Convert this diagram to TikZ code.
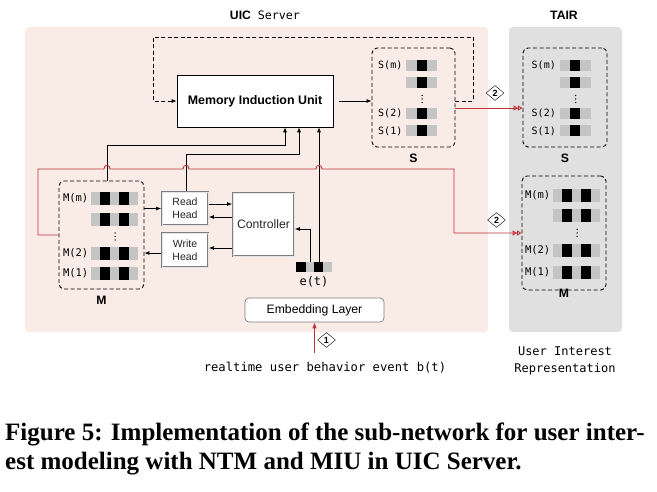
\documentclass[tikz,border=0pt]{standalone}
\usepackage{fontspec}
\setmainfont{Liberation Serif}
\setsansfont{Liberation Sans}
\setmonofont{DejaVu Sans Mono}
\usetikzlibrary{positioning,calc,arrows.meta,shapes.geometric}

\definecolor{uicpink}{RGB}{249,236,230}
\definecolor{tairgray}{RGB}{224,224,224}
\definecolor{cellgray}{RGB}{196,196,196}
\definecolor{linkred}{RGB}{192,48,56}
\definecolor{framegray}{RGB}{125,125,125}

\tikzset{
  memframe/.style={draw, dashed, dash pattern=on 4pt off 2.5pt, line width=0.9pt, rounded corners=5pt, inner sep=0pt},
  headbox/.style={draw=framegray, line width=1.8pt, fill=white, inner sep=0pt, align=center,
    postaction={draw=white!80!framegray, line width=0.6pt}, font=\sffamily\fontsize{10.5}{13}\selectfont, text=black!85},
  miubox/.style={draw, line width=0.7pt, fill=white, minimum width=156pt, minimum height=52pt, font=\sffamily\bfseries\fontsize{12.4}{14}\selectfont},
  embbox/.style={draw=framegray, line width=0.7pt, rounded corners=4pt, fill=white, minimum width=139pt, minimum height=24pt, font=\sffamily\fontsize{12.2}{14}\selectfont},
  slotlabel/.style={font=\ttfamily\fontsize{10}{11}\selectfont, inner sep=0pt},
  titletext/.style={font=\sffamily\bfseries\fontsize{12.2}{14}\selectfont},
  arr/.style={-{Latex[length=5pt,width=4pt]}, line width=0.7pt},
  loopline/.style={arr, dashed, dash pattern=on 4pt off 2.5pt, line width=0.8pt},
  redline/.style={linkred, line width=0.9pt, -{Triangle[open,length=4.5pt,width=5pt]Triangle[open,length=4.5pt,width=5pt]}},
  numtag/.style={diamond, draw, fill=white, inner sep=0pt, minimum width=18pt, minimum height=15pt, font=\sffamily\bfseries\fontsize{9}{10}\selectfont}
}

% one row of S: x, y, label, name
\newcommand{\slotS}[4]{%
  \fill[cellgray] (#1-15.5,#2-5.5) rectangle (#1+15.5,#2+5.5);
  \fill[black] (#1-5,#2-5.5) rectangle (#1+5,#2+5.5);
  \node[slotlabel, anchor=east] (#4) at (#1-19,#2) {#3};
}
% one row of M: x, y, label, name
\newcommand{\slotM}[4]{%
  \fill[cellgray] (#1-23.5,#2-6.5) rectangle (#1+23.5,#2+6.5);
  \fill[black] (#1-14.5,#2-6.5) rectangle (#1-4.5,#2+6.5);
  \fill[black] (#1+4.5,#2-6.5) rectangle (#1+14.5,#2+6.5);
  \node[slotlabel, font=\ttfamily\fontsize{10.5}{11}\selectfont, anchor=east] (#4) at (#1-26,#2) {#3};
}
% vertical dots
\newcommand{\dotcol}[2]{\fill (#1,#2-3.5) circle (0.75pt) (#1,#2) circle (0.75pt) (#1,#2+3.5) circle (0.75pt);}

\begin{document}
\begin{tikzpicture}[x=1pt,y=-1pt]
\useasboundingbox (0,0) rectangle (657,492);

% Backgrounds
\fill[uicpink, rounded corners=4pt] (25,27) rectangle (488,332);
\fill[tairgray, rounded corners=4pt] (509,27) rectangle (622,332);
\node[titletext] (uictitle) at (265,15) {UIC\ \ {\fontsize{11.7}{14}\selectfont\mdseries\ttfamily Server}};
\node[titletext] (tairtitle) at (564,15) {TAIR};

% MIU and S
\node[miubox] (miu) at (255,101) {Memory Induction Unit};
\node[memframe, minimum width=83pt, minimum height=99pt] (sbox) at (413.5,97.5) {};
\node[titletext, below=3pt of sbox] (slabel) {S};
\node[memframe, minimum width=84pt, minimum height=99pt] (tsbox) at (565,97.5) {};
\node[titletext, below=3pt of tsbox] (tslabel) {S};

% M, heads, controller
\node[memframe, minimum width=85pt, minimum height=108pt] (mbox) at (101.5,235) {};
\node[titletext, below=3pt of mbox] (mlabel) {M};
\node[memframe, minimum width=84pt, minimum height=114pt] (tmbox) at (564,233) {};
\node[titletext, below=-5pt of tmbox] (tmlabel) {M};
\node[headbox, minimum width=46pt, minimum height=33pt] (rhead) at (185,208.5) {Read\\Head};
\node[headbox, minimum width=46pt, minimum height=34pt] (whead) at (185,250) {Write\\Head};
\node[headbox, minimum width=61pt, minimum height=63pt, font=\sffamily\fontsize{12.2}{14}\selectfont] (ctrl) at (263.5,224.5) {Controller};

% memory rows
\begin{scope}[shift={(sbox.center)}]
\foreach \dy/\lab [count=\i] in {-32/S(m), -14.5/{}, 16/S(2), 33.5/S(1)} {\slotS{8}{\dy}{\lab}{us\i}}
\dotcol{8.5}{1.5}
\end{scope}
\begin{scope}[shift={(tsbox.center)}]
\foreach \dy/\lab [count=\i] in {-32/S(m), -14.5/{}, 16/S(2), 33.5/S(1)} {\slotS{10}{\dy}{\lab}{ts\i}}
\dotcol{10.5}{1.5}
\end{scope}
\begin{scope}[shift={(mbox.center)}]
\foreach \dy/\lab [count=\i] in {-36.5/M(m), -15.5/{}, 18.5/M(2), 38.5/M(1)} {\slotM{13}{\dy}{\lab}{um\i}}
\dotcol{13.5}{1.5}
\end{scope}
\begin{scope}[shift={(tmbox.center)}]
\foreach \dy/\lab [count=\i] in {-37.5/M(m), -17.5/{}, 17.5/M(2), 39.5/M(1)} {\slotM{12.5}{\dy}{\lab}{tm\i}}
\dotcol{13}{0}
\end{scope}

% e(t), embedding and event
\node[inner sep=0pt, minimum width=36pt, minimum height=10pt] (evec) at (314,267) {};
\begin{scope}[shift={(evec.center)}]
\fill[black] (-18,-5) rectangle (-8,5);
\fill[cellgray] (-8,-5) rectangle (0,5);
\fill[black] (0,-5) rectangle (9,5);
\fill[cellgray] (9,-5) rectangle (18,5);
\end{scope}
\node[below=4pt of evec, font=\ttfamily\fontsize{12}{14}\selectfont, inner sep=0pt] (elabel) {e(t)};
\node[embbox] (emb) at (314.5,310) {Embedding Layer};
\node[font=\ttfamily\fontsize{12.2}{14}\selectfont] (event) at (325,368) {realtime user behavior event b(t)};
\node[align=center, font=\ttfamily\fontsize{12}{17}\selectfont] (uirep) at (565,361) {User Interest\\Representation};

% MIU <-> S
\draw[arr, shorten <=6pt] (miu.east) -- (sbox.west |- miu.east);
\draw[loopline] (sbox.east |- miu.east) -- ++(18,0) |- (153,37) |- (miu.west);

% inputs of MIU
\draw[arr] ($(mbox.north)+(5.5,0)$) -- ++(0,-35) -| ($(miu.south)+(30,0)$);
\draw[arr] ($(rhead.north)+(1,0)$) -- ++(0,-37) -| ($(miu.south)+(44,0)$);
\draw[arr] ($(evec.north)+(5,0)$) -- ($(miu.south)+(64,0)$);
\draw[arr] ($(evec.north)+(-4,0)$) |- ($(ctrl.east)+(0,4.5)$);

% heads
\draw[arr] (mbox.east |- rhead.west) -- (rhead.west);
\coordinate (rc1) at ($(rhead.east)+(0,-4.5)$);
\coordinate (rc2) at ($(rhead.east)+(0,8.5)$);
\draw[arr] (rc1) -- (rc1 -| ctrl.west);
\draw[arr] (rc2 -| ctrl.west) -- (rc2);
\coordinate (wc1) at ($(whead.east)+(0,-2)$);
\draw[arr] (wc1 -| ctrl.west) -- (wc1);
\coordinate (wc2) at ($(whead.west)+(0,3)$);
\draw[arr] (wc2) -- (wc2 -| mbox.east);

% sync to TAIR
\draw[redline] ($(sbox.east)+(0,10.5)$) -- ($(tsbox.west)+(0,10.5)$);
\node[numtag] (tag2s) at (495,93) {2};
\draw[redline] (mbox.west) -| (38,169) -- (104,169) .. controls (104,164) and (110,164) .. (110,169)
  -- (183,169) .. controls (183,164) and (189,164) .. (189,169)
  -- (316,169) .. controls (316,164) and (322,164) .. (322,169) -- (454,169) |- (tmbox.west);
\node[numtag] (tag2m) at (496.5,220) {2};

% event into embedding
\draw[linkred, line width=0.9pt, -{Latex[length=6pt,width=4.5pt]}, shorten <=6pt] (emb.south |- event.north) -- (emb.south);
\node[numtag] (tag1) at (326.5,340) {1};

% caption
\node[anchor=base west, inner sep=0pt, font=\bfseries\fontsize{25}{28}\selectfont] (cap1) at (5,440) {Figure 5: Implementation of the sub-network for user inter-};
\node[anchor=base west, inner sep=0pt, font=\bfseries\fontsize{25}{28}\selectfont] (cap2) at (5,469) {est modeling with NTM and MIU in UIC Server.};
\end{tikzpicture}
\end{document}
